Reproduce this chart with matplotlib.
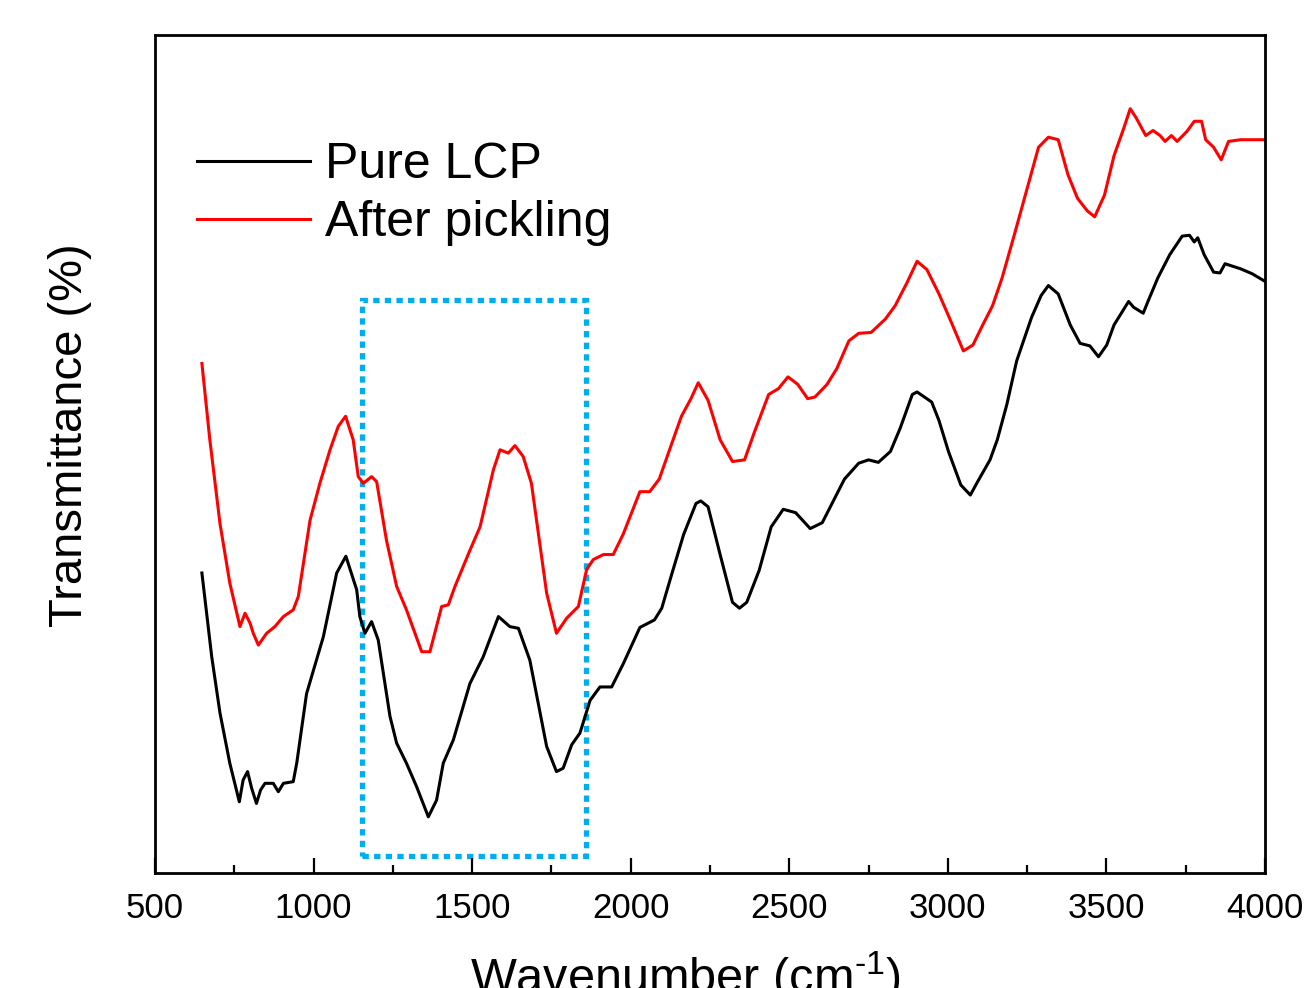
import matplotlib
matplotlib.use("Agg")
import matplotlib.pyplot as plt
from matplotlib.patches import Rectangle

plt.rcParams['font.family'] = ['Liberation Sans', 'DejaVu Sans']
plt.rcParams['mathtext.fontset'] = 'custom'
plt.rcParams['mathtext.rm'] = 'Liberation Sans'
plt.rcParams['mathtext.it'] = 'Liberation Sans:italic'
plt.rcParams['mathtext.bf'] = 'Liberation Sans:bold'

# Pure LCP (black)
wn_pure = [648, 679, 705, 736, 766, 778, 792, 805, 820, 833, 847, 873, 889, 905, 936, 947, 978,
           1031, 1073, 1102, 1136, 1146, 1162, 1183, 1204, 1241, 1262, 1293, 1325, 1362, 1388,
           1409, 1441, 1493, 1535, 1583, 1619, 1646, 1682, 1735, 1766, 1787, 1814, 1840, 1872,
           1903, 1940, 1977, 2029, 2075, 2098, 2129, 2167, 2206, 2221, 2244, 2282, 2321, 2343,
           2366, 2405, 2443, 2481, 2520, 2566, 2604, 2635, 2674, 2719, 2750, 2781, 2819, 2850,
           2888, 2903, 2949, 2972, 3002, 3041, 3071, 3094, 3133, 3156, 3186, 3217, 3264, 3294,
           3317, 3348, 3386, 3417, 3448, 3475, 3501, 3524, 3570, 3586, 3616, 3631, 3662, 3700,
           3739, 3762, 3777, 3788, 3808, 3838, 3858, 3874, 3923, 3960, 4000]
t_pure = [35.8, 25.8, 19.1, 13.1, 8.5, 11.1, 12.1, 10.1, 8.3, 9.9, 10.7, 10.7, 9.7, 10.7, 10.9, 13.1, 21.4,
          28.2, 35.8, 37.8, 33.8, 30.6, 28.6, 30.0, 27.8, 18.7, 15.5, 13.1, 10.3, 6.7, 8.7,
          13.1, 15.9, 22.6, 25.8, 30.6, 29.4, 29.2, 25.4, 15.1, 12.1, 12.5, 15.3, 16.7, 20.6,
          22.2, 22.2, 25.0, 29.3, 30.2, 31.6, 35.6, 40.4, 44.1, 44.4, 43.7, 38.0, 32.3, 31.6,
          32.3, 36.1, 41.3, 43.4, 43.0, 41.1, 41.8, 44.1, 47.0, 48.9, 49.3, 49.0, 50.3, 53.1,
          57.1, 57.4, 56.2, 54.0, 50.3, 46.3, 45.1, 46.7, 49.3, 51.7, 55.9, 61.1, 66.3, 68.9,
          70.1, 69.1, 65.4, 63.2, 62.9, 61.6, 63.0, 65.4, 68.2, 67.5, 66.8, 68.2, 71.0, 73.8,
          76.0, 76.1, 75.3, 75.8, 73.8, 71.7, 71.6, 72.7, 72.1, 71.5, 70.6]

# After pickling (red)
wn_pick = [648, 673, 705, 736, 768, 776, 784, 800, 810, 826, 852, 878, 905, 936, 952, 989, 1020,
           1052, 1078, 1101, 1125, 1141, 1157, 1183, 1199, 1230, 1262, 1293, 1341, 1367, 1404,
           1425, 1446, 1493, 1525, 1567, 1588, 1614, 1635, 1661, 1687, 1735, 1766, 1798, 1835,
           1861, 1882, 1914, 1945, 1976, 2029, 2060, 2090, 2129, 2160, 2190, 2213, 2244, 2282,
           2321, 2359, 2390, 2435, 2466, 2496, 2527, 2558, 2581, 2619, 2650, 2688, 2719, 2758,
           2803, 2834, 2872, 2903, 2934, 2972, 3010, 3049, 3079, 3110, 3141, 3171, 3210, 3248,
           3286, 3317, 3348, 3379, 3409, 3440, 3463, 3494, 3524, 3555, 3575, 3594, 3624, 3647,
           3669, 3685, 3705, 3723, 3754, 3777, 3800, 3813, 3838, 3862, 3885, 3923, 4000]
t_pick = [60.8, 51.7, 41.7, 34.6, 29.4, 30.2, 31.0, 29.8, 28.6, 27.2, 28.6, 29.4, 30.6, 31.4, 33.0, 42.1, 46.5,
          50.5, 53.3, 54.5, 51.7, 47.3, 46.5, 47.3, 46.7, 39.7, 34.2, 31.4, 26.4, 26.4, 31.8,
          32.0, 34.2, 38.5, 41.3, 48.1, 50.5, 50.1, 51.0, 49.7, 46.5, 33.4, 28.6, 30.4, 31.8,
          36.2, 37.4, 38.0, 38.0, 40.4, 45.5, 45.5, 47.0, 51.2, 54.5, 56.6, 58.5, 56.4, 51.7,
          49.1, 49.3, 52.6, 57.1, 57.8, 59.2, 58.3, 56.6, 56.8, 58.3, 60.2, 63.5, 64.4, 64.5,
          66.1, 67.7, 70.5, 73.0, 72.0, 69.1, 65.8, 62.3, 63.0, 65.4, 67.7, 71.0, 76.2, 81.4,
          86.6, 87.8, 87.5, 83.3, 80.5, 79.0, 78.3, 80.9, 85.6, 88.9, 91.2, 90.1, 88.0, 88.6,
          88.0, 87.3, 88.0, 87.3, 88.5, 89.7, 89.7, 87.5, 86.6, 85.1, 87.3, 87.5, 87.5]

series_labels = ["Pure LCP", "After pickling"]
box_wn = [1153, 1859]
box_t = [2.0, 68.4]

fig = plt.figure(figsize=(13.11, 9.88), dpi=100)
ax = fig.add_axes([0.1182, 0.1164, 0.8467, 0.8482])

ax.plot(wn_pure, t_pure, color='black', lw=2.2, label=series_labels[0])
ax.plot(wn_pick, t_pick, color='#ff0000', lw=2.2, label=series_labels[1])

ax.add_patch(Rectangle((box_wn[0], box_t[0]), box_wn[1] - box_wn[0], box_t[1] - box_t[0],
                       fill=False, edgecolor='#00aeef', lw=3.8, linestyle=(0, (1.2, 1.0))))

ax.set_xlim(500, 4000)
ax.set_ylim(0, 100)
ax.set_xticks(range(500, 4001, 500))
ax.set_xticks(range(750, 4000, 500), minor=True)
ax.set_yticks([])
ax.tick_params(axis='x', which='major', direction='in', length=11, width=1.6,
               labelsize=25, pad=14, top=False)
ax.tick_params(axis='x', which='minor', direction='in', length=5.5, width=1.6, top=False)
for s in ax.spines.values():
    s.set_linewidth(2.0)

ax.set_ylabel("Transmittance (%)", fontsize=34)
ax.yaxis.set_label_coords(-0.057, 0.523)
ax.set_xlabel(r"Wavenumber (cm$^{\text{-1}}$)", fontsize=35)
ax.xaxis.set_label_coords(0.478, -0.092)

leg = ax.legend(loc='upper left', bbox_to_anchor=(0.0154, 0.902), frameon=False,
                fontsize=36, handlelength=2.25, handletextpad=0.3, labelspacing=0.24,
                borderpad=0)
for line in leg.get_lines():
    line.set_linewidth(2.2)

fig.savefig("out.png", dpi=100)
